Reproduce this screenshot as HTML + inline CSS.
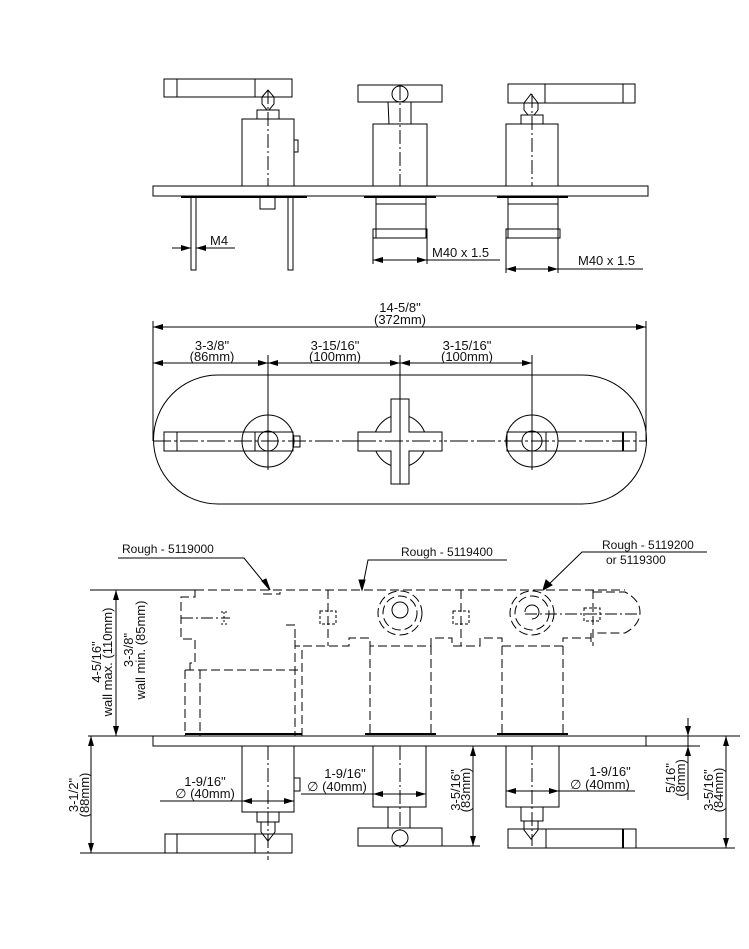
<!DOCTYPE html>
<html><head><meta charset="utf-8"><style>
html,body{margin:0;padding:0;background:#fff;width:749px;height:949px;overflow:hidden}
svg{display:block}
text{font-family:"Liberation Sans",Arial,sans-serif;font-size:13px;fill:#111}
.t{font-size:12px}
</style></head><body>
<svg width="749" height="949" viewBox="0 0 749 949" xmlns="http://www.w3.org/2000/svg">
<defs>
<marker id="a" markerWidth="10" markerHeight="6" refX="10" refY="3" orient="auto-start-reverse" markerUnits="userSpaceOnUse"><path d="M0,0 L10,3 L0,6z" fill="#000"/></marker>
</defs>
<g fill="none" stroke="#000" stroke-width="1">
<!-- ===== TOP SIDE VIEW ===== -->
<rect x="153" y="186" width="495" height="10"/>
<!-- left lever -->
<rect x="164" y="79" width="128" height="18"/><line x1="177" y1="79" x2="177" y2="97"/><line x1="255" y1="79" x2="255" y2="97"/>
<path d="M262,97 L268,90 L274,97 L274,104 L269,110 L267,110 L262,104z"/>
<rect x="257" y="110" width="22" height="9"/>
<rect x="242" y="119" width="52" height="67"/>
<line x1="268" y1="90" x2="268" y2="186" stroke-dasharray="14 3 2 3"/>
<rect x="294" y="140" width="4" height="12"/>
<line x1="181" y1="197" x2="307" y2="197" stroke-width="2"/>
<rect x="191" y="197" width="5" height="73"/><rect x="288" y="197" width="5" height="73"/>
<rect x="260" y="197" width="15" height="12"/>
<line x1="172" y1="248" x2="191" y2="248" marker-end="url(#a)"/><line x1="235" y1="248" x2="196" y2="248" marker-end="url(#a)"/>
<!-- center T -->
<rect x="358" y="85" width="84" height="17"/><circle cx="400" cy="94" r="8" fill="#fff"/>
<path d="M388,102 L389,124 M411,102 L411,124"/>
<rect x="373" y="124" width="54" height="62"/>
<line x1="400" y1="86" x2="400" y2="186" stroke-dasharray="14 3 2 3"/>
<line x1="364" y1="197" x2="436" y2="197" stroke-width="2"/>
<rect x="376" y="197" width="50" height="41"/><line x1="376" y1="204" x2="426" y2="204"/><rect x="373" y="229" width="54" height="9"/>
<line x1="373" y1="238" x2="373" y2="264"/><line x1="427" y1="238" x2="427" y2="264"/>
<line x1="373" y1="260" x2="500" y2="260"/><line x1="427" y1="260" x2="373" y2="260" marker-end="url(#a)"/><line x1="373" y1="260" x2="427" y2="260" marker-end="url(#a)"/>
<!-- right lever -->
<rect x="508" y="84" width="127" height="19"/><line x1="545" y1="84" x2="545" y2="103"/><line x1="623" y1="84" x2="623" y2="103"/>
<path d="M524,103 L531,94 L538,103 L538,110 L534,115 L528,115 L524,110z"/>
<rect x="521" y="115" width="22" height="9"/>
<rect x="506" y="124" width="52" height="62"/>
<line x1="532" y1="94" x2="532" y2="186" stroke-dasharray="14 3 2 3"/>
<line x1="497" y1="197" x2="568" y2="197" stroke-width="2"/>
<rect x="508" y="197" width="50" height="41"/><line x1="508" y1="204" x2="558" y2="204"/><rect x="506" y="229" width="54" height="9"/>
<line x1="506" y1="238" x2="506" y2="273"/><line x1="558" y1="238" x2="558" y2="273"/>
<line x1="506" y1="269" x2="643" y2="269"/><line x1="558" y1="269" x2="506" y2="269" marker-end="url(#a)"/><line x1="506" y1="269" x2="558" y2="269" marker-end="url(#a)"/>

<!-- ===== PLAN VIEW ===== -->
<line x1="153" y1="321" x2="153" y2="441"/><line x1="646" y1="321" x2="646" y2="441"/>
<line x1="153" y1="327" x2="646" y2="327" marker-start="url(#a)" marker-end="url(#a)"/>
<line x1="153" y1="363" x2="268" y2="363" marker-start="url(#a)" marker-end="url(#a)"/>
<line x1="268" y1="363" x2="400" y2="363" marker-start="url(#a)" marker-end="url(#a)"/>
<line x1="400" y1="363" x2="532" y2="363" marker-start="url(#a)" marker-end="url(#a)"/>
<line x1="268" y1="355" x2="268" y2="470"/><line x1="400" y1="355" x2="400" y2="484"/><line x1="532" y1="355" x2="532" y2="470"/>
<path d="M218,375 H582 A64,64 0 0 1 582,504 H218 A64,64 0 0 1 218,375z"/>
<line x1="153" y1="441" x2="646" y2="441" stroke-dasharray="18 3 3 3"/>
<circle cx="268" cy="441" r="26"/><circle cx="268" cy="441" r="10"/>
<rect x="164" y="432" width="91" height="19"/><line x1="177" y1="432" x2="177" y2="451"/><rect x="255" y="432" width="38" height="19"/><rect x="293" y="436" width="7" height="11"/>
<circle cx="400" cy="441" r="26"/>
<path d="M391,399 H409 V432 H442 V451 H409 V484 H391 V451 H358 V432 H391z" fill="#fff"/>
<line x1="358" y1="441" x2="442" y2="441" stroke-dasharray="18 3 3 3"/><line x1="400" y1="399" x2="400" y2="484"/>
<circle cx="532" cy="441" r="26"/><circle cx="532" cy="441" r="10"/>
<rect x="507" y="432" width="39" height="19"/><rect x="546" y="432" width="90" height="19"/><line x1="623" y1="432" x2="623" y2="451" stroke-width="2"/>

<!-- ===== ROUGH VIEW ===== -->
<g stroke-dasharray="9 4">
<path d="M195,590 H625"/>
<path d="M195,590 V597 H181 V639 H195 V663 H190 V670"/>
<path d="M286,625 H295 V646 H303"/>
<path d="M263,594 H280 V592"/>
<path d="M303,646 H349 V638 H370 V646 H431 V638 H452 V646 H480 V638 H502 V646 H563 V638 H591"/>
<path d="M593,592 H625 Q640,600 640,612 Q640,625 625,633 H593"/>
<path d="M591,633 V646"/>
<line x1="185" y1="670" x2="185" y2="736"/><line x1="200" y1="670" x2="200" y2="736"/>
<line x1="295" y1="640" x2="295" y2="736"/><line x1="302" y1="650" x2="302" y2="736"/>
<line x1="185" y1="670" x2="302" y2="670"/>
<line x1="370" y1="646" x2="370" y2="736"/><line x1="431" y1="646" x2="431" y2="736"/>
<line x1="502" y1="646" x2="502" y2="736"/><line x1="563" y1="646" x2="563" y2="736"/>
<line x1="328" y1="590" x2="328" y2="646"/><line x1="461" y1="590" x2="461" y2="646"/><line x1="593" y1="590" x2="593" y2="646"/>
<circle cx="400" cy="613" r="22"/><circle cx="400" cy="613" r="17"/>
<circle cx="532" cy="613" r="22"/><circle cx="532" cy="613" r="17"/>
</g>
<circle cx="400" cy="610" r="8"/><path d="M525,612 A7,7 0 1 1 532,619"/><line x1="525" y1="614" x2="640" y2="614" stroke-dasharray="12 3 2 3"/>
<line x1="181" y1="618" x2="230" y2="618" stroke-dasharray="12 3 2 3"/>
<path d="M221,612 h8 M221,624 h8 M224,612 v12" stroke-dasharray="2 2"/>
<rect x="320" y="611" width="16" height="13" stroke-dasharray="3 2"/><rect x="453" y="611" width="16" height="13" stroke-dasharray="3 2"/><rect x="584" y="608" width="16" height="13" stroke-dasharray="3 2"/>
<line x1="185" y1="734" x2="302" y2="734" stroke-width="2"/><line x1="365" y1="734" x2="436" y2="734" stroke-width="2"/><line x1="497" y1="734" x2="568" y2="734" stroke-width="2"/>
<!-- leaders -->
<path d="M118,558 H244 L270,590" /><path d="M262,581 L270,590 L266,579z" fill="#000"/>
<path d="M507,560 H368 L362,590"/><path d="M359,580 L362,590 L365,580z" fill="#000"/>
<path d="M707,552 H582 L543,590"/><path d="M546,580 L543,590 L552,585z" fill="#000"/>
<line x1="90" y1="590" x2="195" y2="590"/>
<line x1="116" y1="590" x2="116" y2="736" marker-start="url(#a)" marker-end="url(#a)"/>

<!-- ===== BOTTOM VIEW ===== -->
<line x1="88" y1="736" x2="740" y2="736"/>
<rect x="153" y="736" width="493" height="10"/>
<line x1="646" y1="746" x2="700" y2="746"/>
<line x1="91" y1="736" x2="91" y2="853" marker-start="url(#a)" marker-end="url(#a)"/>
<line x1="80" y1="853" x2="292" y2="853"/>
<!-- left -->
<rect x="242" y="746" width="52" height="66"/><line x1="268" y1="746" x2="268" y2="860" stroke-dasharray="14 3 2 3"/>
<rect x="257" y="812" width="22" height="10"/>
<path d="M261,822 V832 L268,841 L275,832 V822"/>
<rect x="165" y="834" width="127" height="19"/><line x1="177" y1="834" x2="177" y2="853"/><line x1="255" y1="834" x2="255" y2="853"/>
<rect x="294" y="778" width="6" height="13"/>
<line x1="160" y1="801" x2="242" y2="801"/><line x1="268" y1="801" x2="242" y2="801" marker-end="url(#a)"/><line x1="268" y1="801" x2="294" y2="801" marker-end="url(#a)"/>
<!-- center -->
<rect x="373" y="746" width="53" height="61"/><line x1="400" y1="746" x2="400" y2="850" stroke-dasharray="14 3 2 3"/>
<path d="M388,807 V828 M410,807 V828"/>
<rect x="358" y="828" width="84" height="18"/><circle cx="400" cy="838" r="8" fill="#fff"/>
<line x1="301" y1="794" x2="373" y2="794"/><line x1="400" y1="794" x2="373" y2="794" marker-end="url(#a)"/><line x1="400" y1="794" x2="426" y2="794" marker-end="url(#a)"/>
<line x1="442" y1="846" x2="480" y2="846"/>
<line x1="473" y1="746" x2="473" y2="846" marker-start="url(#a)" marker-end="url(#a)"/>
<!-- right -->
<rect x="506" y="746" width="53" height="61"/><line x1="532" y1="746" x2="532" y2="846" stroke-dasharray="14 3 2 3"/>
<rect x="521" y="807" width="22" height="14"/>
<path d="M524,821 V830 L531,839 L538,830 V821"/>
<rect x="508" y="829" width="38" height="19"/><rect x="546" y="829" width="90" height="19"/><line x1="623" y1="829" x2="623" y2="848" stroke-width="2"/>
<line x1="532" y1="791" x2="506" y2="791" marker-end="url(#a)"/><line x1="532" y1="791" x2="559" y2="791" marker-end="url(#a)"/><line x1="559" y1="791" x2="635" y2="791"/>
<line x1="636" y1="848" x2="735" y2="848"/><line x1="700" y1="736" x2="735" y2="736"/>
<line x1="726" y1="736" x2="726" y2="848" marker-start="url(#a)" marker-end="url(#a)"/>
<line x1="688" y1="718" x2="688" y2="736" marker-end="url(#a)"/><line x1="688" y1="800" x2="688" y2="746" marker-end="url(#a)"/><line x1="688" y1="736" x2="688" y2="746"/>
</g>

<!-- texts -->
<text x="210" y="245">M4</text>
<text x="432" y="257">M40 x 1.5</text>
<text x="578" y="265">M40 x 1.5</text>
<text x="400" y="312" text-anchor="middle">14-5/8"</text>
<text x="400" y="324" text-anchor="middle">(372mm)</text>
<text x="212" y="350" text-anchor="middle">3-3/8"</text>
<text x="212" y="361" text-anchor="middle">(86mm)</text>
<text x="335" y="350" text-anchor="middle">3-15/16"</text>
<text x="335" y="361" text-anchor="middle">(100mm)</text>
<text x="467" y="350" text-anchor="middle">3-15/16"</text>
<text x="467" y="361" text-anchor="middle">(100mm)</text>
<text class="t" x="122" y="553">Rough - 5119000</text>
<text class="t" x="401" y="556">Rough - 5119400</text>
<text class="t" x="602" y="549">Rough - 5119200</text>
<text class="t" x="606" y="564">or 5119300</text>
<text transform="translate(101,662) rotate(-90)" text-anchor="middle">4-5/16"</text>
<text transform="translate(112,662) rotate(-90)" text-anchor="middle">wall max. (110mm)</text>
<text transform="translate(133,650) rotate(-90)" text-anchor="middle">3-3/8"</text>
<text transform="translate(145,650) rotate(-90)" text-anchor="middle">wall min. (85mm)</text>
<text transform="translate(78,795) rotate(-90)" text-anchor="middle">3-1/2"</text>
<text transform="translate(89,795) rotate(-90)" text-anchor="middle">(88mm)</text>
<text x="205" y="786" text-anchor="middle">1-9/16"</text>
<text x="205" y="798" text-anchor="middle">∅ (40mm)</text>
<text x="345" y="778" text-anchor="middle">1-9/16"</text>
<text x="337" y="791" text-anchor="middle">∅ (40mm)</text>
<text transform="translate(460,790) rotate(-90)" text-anchor="middle">3-5/16"</text>
<text transform="translate(470,790) rotate(-90)" text-anchor="middle">(83mm)</text>
<text x="610" y="776" text-anchor="middle">1-9/16"</text>
<text x="600" y="789" text-anchor="middle">∅ (40mm)</text>
<text transform="translate(675,778) rotate(-90)" text-anchor="middle">5/16"</text>
<text transform="translate(685,778) rotate(-90)" text-anchor="middle">(8mm)</text>
<text transform="translate(713,790) rotate(-90)" text-anchor="middle">3-5/16"</text>
<text transform="translate(723,790) rotate(-90)" text-anchor="middle">(84mm)</text>
</svg>
</body></html>
